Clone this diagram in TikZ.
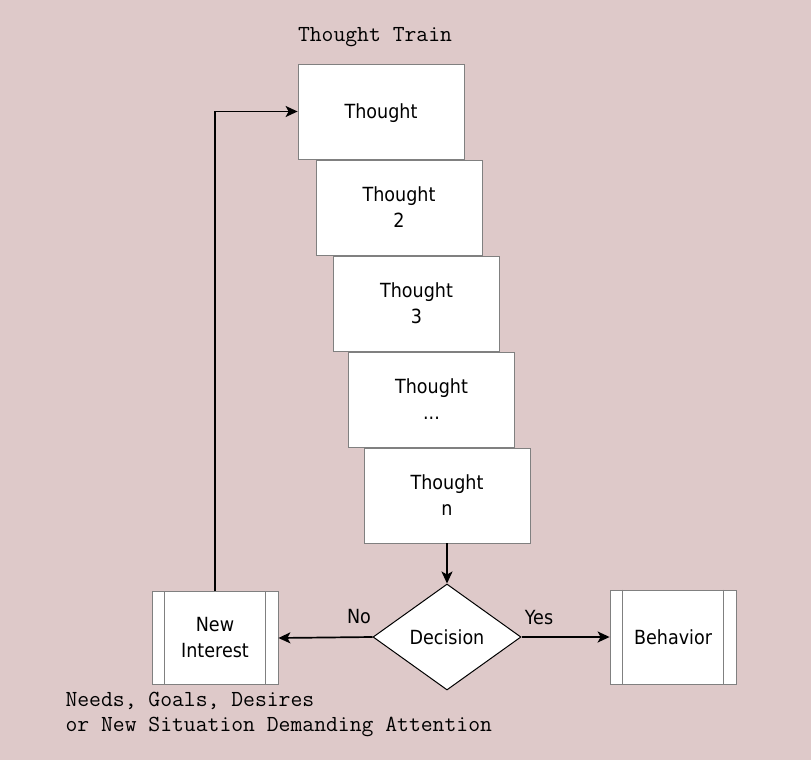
\documentclass[tikz,border=0pt]{standalone}
\usepackage{fontspec}
\setmainfont{DejaVu Sans}[FakeStretch=0.9]
\usepackage{xcolor}
\usetikzlibrary{shapes.geometric, arrows.meta, positioning}

\definecolor{bgpink}{RGB}{222,201,201}
\definecolor{edgegray}{RGB}{128,128,128}

\tikzset{
    thoughtbox/.style={draw=edgegray, fill=white, line width=0.8pt, minimum width=166pt, minimum height=95pt, align=center, text depth=0pt, font=\fontsize{19.5}{26}\selectfont},
    procbox/.style={draw=edgegray, fill=white, line width=0.8pt, minimum width=126pt, minimum height=93pt, align=center, font=\fontsize{19.5}{26}\selectfont},
    decide/.style={diamond, draw, fill=white, line width=1pt, minimum width=148pt, minimum height=106pt, inner sep=2pt, font=\fontsize{19.5}{26}\selectfont},
    flow/.style={-{Stealth[length=12pt, width=11pt, inset=3pt]}, line width=1.7pt},
    labeltext/.style={font=\fontsize{19.5}{26}\selectfont},
    monotext/.style={font=\ttfamily\fontsize{23}{25}\selectfont, align=left}
}

\begin{document}
\begin{tikzpicture}[x=1pt, y=-1pt]
    % Background
    \fill[bgpink] (0,0) rectangle (811,760);
    \useasboundingbox (0,0) rectangle (811,760);

    % Thought train
    \node[monotext] (title) at (375,37) {Thought Train};
    \foreach \txt/\x/\y [count=\i] in {{Thought}/381/111.5, {Thought\\2}/399/207.5, {Thought\\3}/416.5/303.5, {Thought\\...}/431.5/399.5, {Thought\\n}/447/495.5} {
        \node[thoughtbox] (t\i) at (\x,\y) {\txt};
    }

    % Decision
    \node[decide] (dec) at (447,637) {Decision};
    \draw[flow] (t5.south) -- (dec.north);

    % New interest
    \node[procbox] (ni) at (215,638) {New\\Interest};
    \draw[edgegray, line width=0.8pt] ([xshift=13pt]ni.north west) -- ([xshift=13pt]ni.south west);
    \draw[edgegray, line width=0.8pt] ([xshift=-13pt]ni.north east) -- ([xshift=-13pt]ni.south east);

    % Behavior
    \node[procbox, minimum height=94pt] (beh) at (673,637) {Behavior};
    \draw[edgegray, line width=0.8pt] ([xshift=13pt]beh.north west) -- ([xshift=13pt]beh.south west);
    \draw[edgegray, line width=0.8pt] ([xshift=-13pt]beh.north east) -- ([xshift=-13pt]beh.south east);

    % Arrows
    \draw[flow] (dec.west) -- (ni.east);
    \node[labeltext] (no) at (359,617) {No};
    \draw[flow] (dec.east) -- (beh.west);
    \node[labeltext] (yes) at (539,618) {Yes};
    \draw[flow] (ni.north) |- (t1.west);

    % Note
    \node[monotext, anchor=west] (note) at (62,714.5) {Needs, Goals, Desires\\or New Situation Demanding Attention};
\end{tikzpicture}
\end{document}
